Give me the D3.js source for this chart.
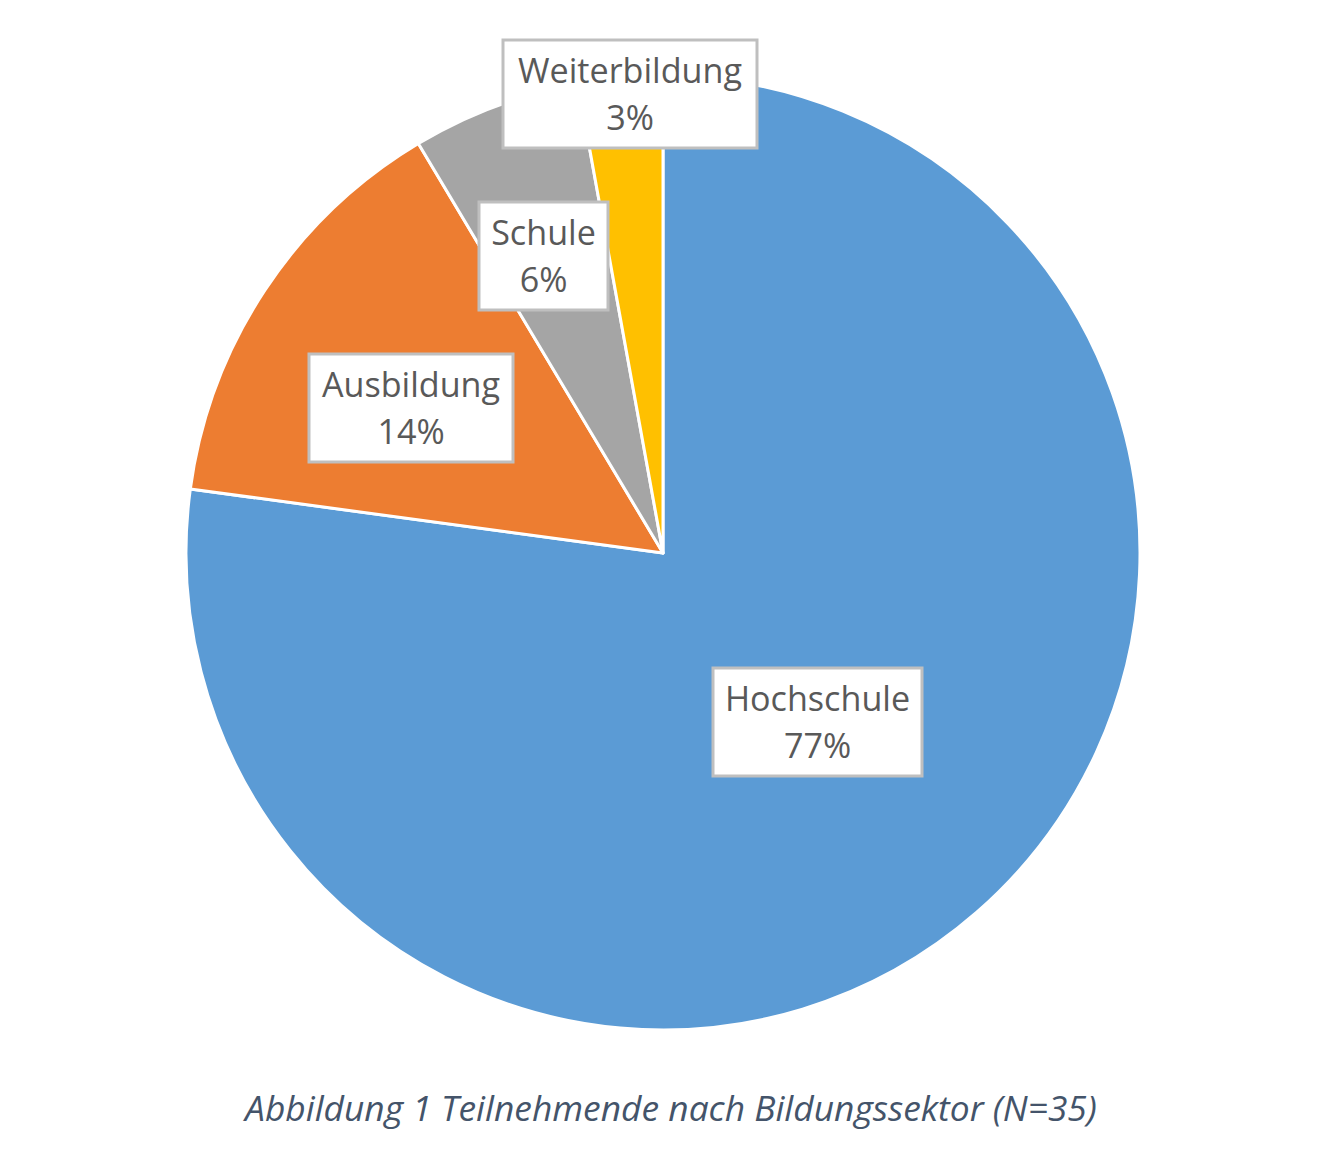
<!DOCTYPE html>
<html>
<head>
<meta charset="utf-8">
<script src="https://cdn.jsdelivr.net/npm/d3@7"></script>
<style>
  html, body { margin: 0; padding: 0; background: #fff; }
</style>
</head>
<body>
<svg id="chart" width="1330" height="1156"></svg>
<script>
// ---- data ----
const categories = ["Hochschule", "Ausbildung", "Schule", "Weiterbildung"];
const counts = [27, 5, 2, 1];            // N = 35
const percentLabels = ["77%", "14%", "6%", "3%"];
const colors = ["#5B9BD5", "#ED7D31", "#A5A5A5", "#FFC000"];
const caption = "Abbildung 1 Teilnehmende nach Bildungssektor (N=35)";

// ---- layout (label box centres, not data) ----
const labelLayout = [
  { cx: 817.5, cy: 722, w: 209, h: 108 },
  { cx: 411,   cy: 408, w: 204, h: 108 },
  { cx: 543.5, cy: 256, w: 129, h: 108 },
  { cx: 630,   cy: 94,  w: 254, h: 108 }
];

const svg = d3.select("#chart");
const cx = 663, cy = 553, r = 477;

const data = categories.map((c, i) => ({ name: c, value: counts[i], pct: percentLabels[i], color: colors[i], lay: labelLayout[i] }));

const pie = d3.pie().value(d => d.value).sort(null).startAngle(0).endAngle(2 * Math.PI);
const arc = d3.arc().innerRadius(0).outerRadius(r);

const g = svg.append("g").attr("transform", `translate(${cx},${cy})`);
g.selectAll("path").data(pie(data)).join("path")
  .attr("d", arc)
  .attr("fill", d => d.data.color)
  .attr("stroke", "#fff")
  .attr("stroke-width", 3)
  .attr("stroke-linejoin", "round");

// font fit
const fontFamily = "'Open Sans', 'Noto Sans', sans-serif";
const probe = svg.append("text").attr("font-family", fontFamily).attr("font-size", 30).text("Weiterbildung");
const wProbe = probe.node().getComputedTextLength();
probe.remove();
const labelSize = 30 * 224 / wProbe;

const lg = svg.append("g");
data.forEach(d => {
  const L = d.lay;
  lg.append("rect")
    .attr("x", L.cx - L.w / 2).attr("y", L.cy - L.h / 2)
    .attr("width", L.w).attr("height", L.h)
    .attr("fill", "#fff").attr("stroke", "#BFBFBF").attr("stroke-width", 3);
  lg.append("text")
    .attr("x", L.cx).attr("y", L.cy - 11)
    .attr("text-anchor", "middle")
    .attr("font-family", fontFamily).attr("font-size", labelSize)
    .attr("fill", "#595959").text(d.name);
  lg.append("text")
    .attr("x", L.cx).attr("y", L.cy + 36)
    .attr("text-anchor", "middle")
    .attr("font-family", fontFamily).attr("font-size", labelSize)
    .attr("fill", "#595959").text(d.pct);
});

// caption
const cap = svg.append("text")
  .attr("x", 671).attr("y", 1121)
  .attr("text-anchor", "middle")
  .attr("font-family", fontFamily).attr("font-style", "italic")
  .attr("font-size", 30).attr("fill", "#44546A").text(caption);
const cw = cap.node().getComputedTextLength();
cap.attr("font-size", 30 * 852 / cw);
</script>
</body>
</html>
